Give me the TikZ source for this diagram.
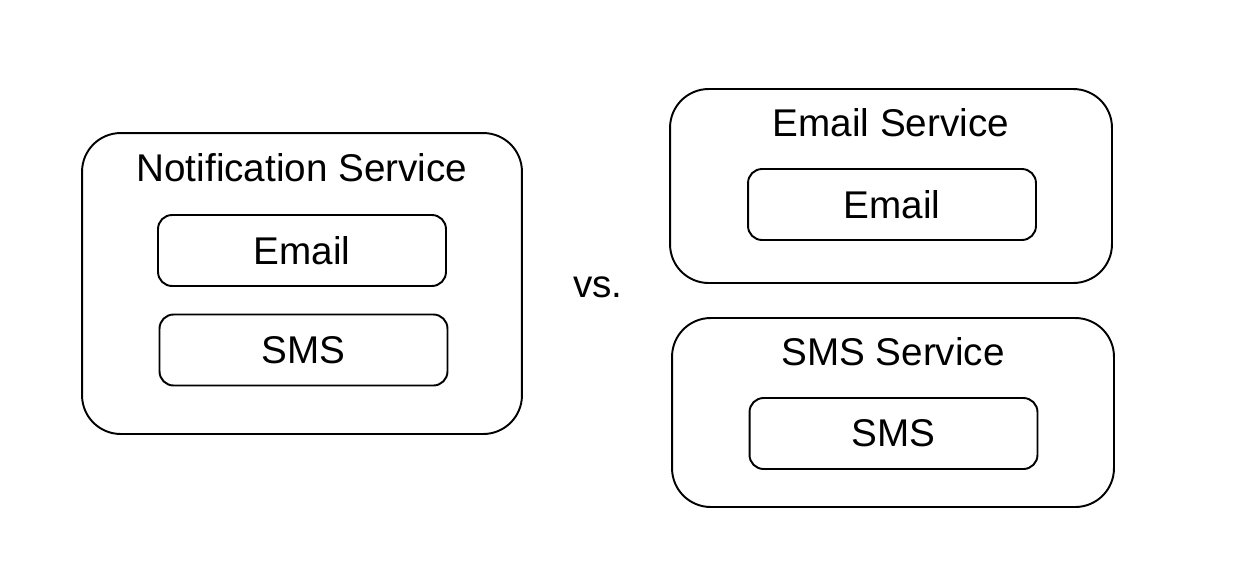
\documentclass[tikz,border=0pt]{standalone}
\usepackage{fontspec}
\setmainfont{Liberation Sans}
\usetikzlibrary{positioning}

\tikzset{
  svcbox/.style={draw, line width=1.1pt, rounded corners=22pt, minimum width=8.84cm},
  itembox/.style={draw, line width=1.1pt, rounded corners=8pt, minimum width=5.76cm, minimum height=1.42cm, font=\fontsize{22}{26}\selectfont},
  title/.style={font=\fontsize{22}{26}\selectfont}
}

\begin{document}
\begin{tikzpicture}[x=0.02cm, y=-0.02cm]
  \useasboundingbox (0,0) rectangle (1234,576);

  % left: one service
  \node[svcbox, minimum width=8.8cm, minimum height=6.02cm] (notif) at (302,283.5) {};
  \node[title] (notiftitle) at (302,168) {Notification Service};
  \node[itembox] (notifemail) at (302,250.5) {Email};
  \node[itembox] (notifsms) at (303.5,350) {SMS};

  \node[title] (vs) at (598,287) {vs.};

  % right: two services
  \node[svcbox, minimum height=3.88cm] (emailsvc) at (891,186) {};
  \node[title] (emailtitle) at (891,123) {Email Service};
  \node[itembox] (emailitem) at (892,204.5) {Email};

  \node[svcbox, minimum height=3.78cm] (smssvc) at (893,412.5) {};
  \node[title] (smstitle) at (893,352) {SMS Service};
  \node[itembox] (smsitem) at (893.5,433.5) {SMS};
\end{tikzpicture}
\end{document}
